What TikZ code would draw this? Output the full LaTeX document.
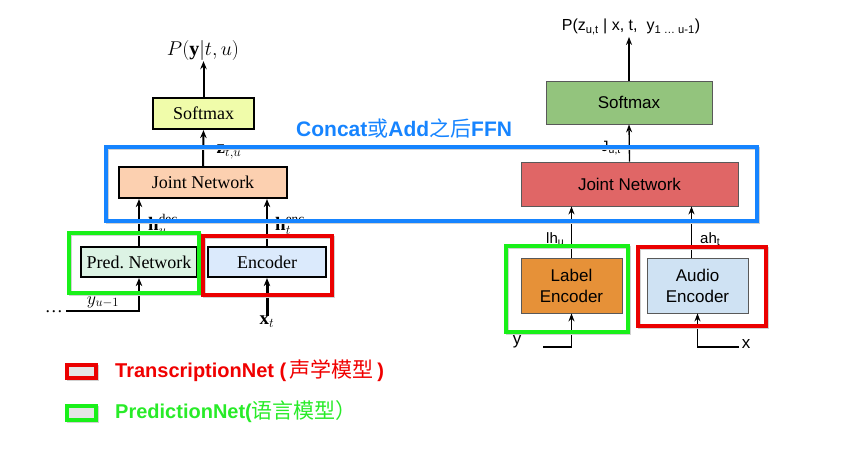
\RequirePackage{fix-cm}
\documentclass[tikz,border=0pt]{standalone}
\usepackage{fontspec}
\setmainfont{Liberation Serif}
\newfontfamily\arial{Liberation Sans}
\newfontfamily\cjk{Noto Sans CJK SC}
\usetikzlibrary{arrows.meta}
\definecolor{lsoftc}{RGB}{240,252,170}
\definecolor{ljointc}{RGB}{252,208,176}
\definecolor{lpredc}{RGB}{220,243,228}
\definecolor{lencc}{RGB}{219,234,252}
\definecolor{rsoftc}{RGB}{147,196,125}
\definecolor{rjointc}{RGB}{224,102,102}
\definecolor{rlabelc}{RGB}{230,145,56}
\definecolor{raudioc}{RGB}{207,226,243}
\definecolor{hlblue}{RGB}{22,132,255}
\definecolor{hlred}{RGB}{235,0,0}
\definecolor{hlgreen}{RGB}{25,240,25}
\definecolor{txred}{RGB}{240,0,0}
\definecolor{txgreen}{RGB}{40,235,40}
\tikzset{
  lbox/.style={draw=black, line width=2.2pt, inner sep=0pt, font=\fontsize{18}{21}\selectfont},
  rbox/.style={draw=black!65, line width=0.8pt, inner sep=0pt, align=center, font=\arial\fontsize{17}{21}\selectfont},
  larrow/.style={line width=2pt, -{Stealth[length=8pt,width=6.5pt]}},
  rarrow/.style={line width=1.3pt, -{Stealth[length=8pt,width=6pt]}},
  hl/.style={line width=3.3pt, preaction={draw=black!18, line width=3.3pt, transform canvas={xshift=1.5pt,yshift=-1.5pt}}},
  lmath/.style={inner sep=0pt, font=\fontsize{19}{22}\selectfont},
  rlab/.style={inner sep=0pt, font=\arial\fontsize{15}{18}\selectfont},
}
\newcommand{\legcjkfont}{\cjk\mdseries\fontsize{21}{24}\selectfont}
\begin{document}
\begin{tikzpicture}[x=1pt,y=-1pt]
\useasboundingbox (0,0) rectangle (843,451);
% ---------- left diagram ----------
\node[lbox, fill=lsoftc, minimum width=101pt, minimum height=31pt] (lsoft) at (203.5,113.5) {Softmax};
\node[lbox, fill=ljointc, minimum width=168pt, minimum height=31pt] (ljoint) at (203,182.5) {Joint Network};
\node[lbox, fill=lpredc, minimum width=116pt, minimum height=30pt] (lpred) at (139,262) {Pred.\ Network};
\node[lbox, fill=lencc, minimum width=118pt, minimum height=30pt] (lenc) at (267,262) {Encoder};
\node[inner sep=1pt, font=\fontsize{20}{23}\selectfont] (lP) at (203,50) {$P(\mathbf{y}|t,u)$};
\draw[larrow] (lsoft.north) -- (lsoft.north |- lP.south);
\draw[larrow] (ljoint.north) -- (lsoft.south);
\draw[larrow] (lpred.north) -- (lpred.north |- ljoint.south);
\draw[larrow] (lenc.north) -- (lenc.north |- ljoint.south);
\node[lmath] (lz) at (229,152) {$\mathbf{z}_{t,u}$};
\node[lmath, anchor=base west] (lhdec) at (148,230) {$\mathbf{h}_u^{\mathrm{dec}}$};
\node[lmath, anchor=base west] (lhenc) at (275,230) {$\mathbf{h}_t^{\mathrm{enc}}$};
\coordinate (lin) at (66,311);
\node[inner sep=0pt, anchor=base east, font=\fontsize{18}{20}\selectfont] (ldots) at (63,312.5) {\ldots};
\draw[larrow] (lin) -- (lin -| lpred.south) -- (lpred.south);
\node[lmath, font=\fontsize{18}{20}\selectfont] (lyu) at (103,302) {$y_{u-1}$};
\node[lmath] (lx) at (267,322) {$\mathbf{x}_t$};
\draw[larrow, line width=3pt] (lx.north) -- (lenc.south);
% ---------- right diagram ----------
\node[rbox, fill=rsoftc, minimum width=166pt, minimum height=43pt] (rsoft) at (629,102.5) {Softmax};
\node[rbox, fill=rjointc, minimum width=217pt, minimum height=44pt] (rjoint) at (629.5,184) {Joint Network};
\node[rbox, fill=rlabelc, minimum width=101pt, minimum height=55pt] (rlabel) at (571.5,285.5) {Label\\Encoder};
\node[rbox, fill=raudioc, minimum width=101pt, minimum height=55pt] (raudio) at (697.5,285.5) {Audio\\Encoder};
\node[rlab, inner sep=2pt, font=\arial\fontsize{16}{19}\selectfont] (rP) at (631,27) {P(z\textsubscript{u,t} | x, t,\ \ y\textsubscript{1 \dots\ u-1})};
\draw[rarrow] (rsoft.north) -- (rsoft.north |- rP.south);
\draw[rarrow] (rjoint.north) -- (rsoft.south);
\draw[rarrow] (rlabel.north) -- (rlabel.north |- rjoint.south);
\draw[rarrow] ([xshift=-6pt]raudio.north) -- ([xshift=-6pt]raudio.north |- rjoint.south);
\node[rlab, anchor=base west] (rJ) at (601,151) {J\textsubscript{u,t}};
\node[rlab, anchor=base west] (rlh) at (546,243) {lh\textsubscript{u}};
\node[rlab, anchor=base west] (rah) at (700,243) {ah\textsubscript{t}};
\node[rlab, font=\arial\fontsize{17}{20}\selectfont] (ry) at (517,342) {y};
\coordinate (ryc) at (543,347);
\draw[rarrow] (ryc) -- (ryc -| rlabel.south) -- (rlabel.south);
\node[rlab, font=\arial\fontsize{17}{20}\selectfont] (rx) at (746,344) {x};
\coordinate (rxc) at (739,347);
\draw[rarrow] (rxc) -- (rxc -| raudio.south) -- (raudio.south);
% ---------- highlight frames ----------
\draw[hl, draw=hlblue] (106,147) rectangle (757,221);
\draw[hl, draw=hlgreen] (69,233) rectangle (199,293);
\draw[hl, draw=hlred] (203,236) rectangle (332,295);
\draw[hl, draw=hlgreen] (506,246) rectangle (628,332);
\draw[hl, draw=hlred] (638,247) rectangle (766,326);
\node[anchor=west, inner sep=0pt, text=hlblue, font=\arial\bfseries\fontsize{21}{25}\selectfont] (title) at (296,128) {Concat{\cjk\mdseries 或}Add{\cjk\mdseries 之后}FFN};
% ---------- legend ----------
\draw[hl, draw=hlred, fill=black!10] (67,365) rectangle (96,378);
\node[anchor=west, inner sep=0pt, text=txred, font=\arial\bfseries\fontsize{20}{24}\selectfont] (legred) at (115,371) {TranscriptionNet ({\legcjkfont\,声学模型\,})};
\draw[hl, draw=hlgreen, fill=black!10] (67,406) rectangle (96,420);
\node[anchor=west, inner sep=0pt, text=txgreen, font=\arial\bfseries\fontsize{20}{24}\selectfont] (leggreen) at (115,412) {PredictionNet({\legcjkfont 语言模型）}};
\end{tikzpicture}
\end{document}
